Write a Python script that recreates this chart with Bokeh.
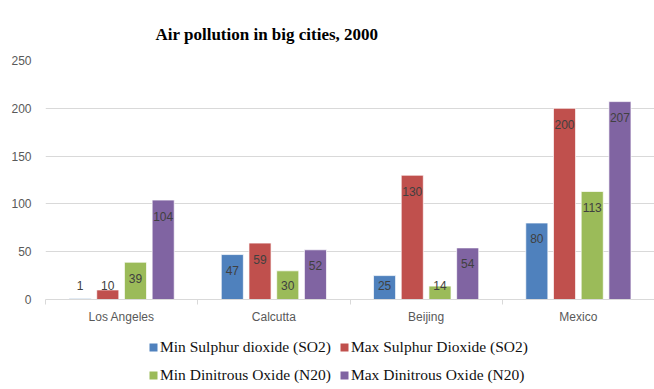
import numpy as np
from bokeh.plotting import figure
from bokeh.layouts import column
from bokeh.models import Range1d, FixedTicker, Legend, LegendItem
from bokeh.core.properties import value
from bokeh.embed import file_html
from bokeh.resources import INLINE

# ---- data ----
cities = ["Los Angeles", "Calcutta", "Beijing", "Mexico"]
series_names = ["Min Sulphur dioxide (SO2)", "Max Sulphur Dioxide (SO2)",
                "Min Dinitrous Oxide (N20)", "Max Dinitrous Oxide (N20)"]
min_so2 = [1, 47, 25, 80]
max_so2 = [10, 59, 130, 200]
min_n2o = [39, 30, 14, 113]
max_n2o = [104, 52, 54, 207]
y_ticks = [0, 50, 100, 150, 200, 250]
title_text = "Air pollution in big cities, 2000"

colors = ["#4F81BD", "#C0504D", "#9BBB59", "#8064A2"]
series = [min_so2, max_so2, min_n2o, max_n2o]

p = figure(width=654, height=330, output_backend="svg", toolbar_location=None,
           x_range=Range1d(0, 4), y_range=Range1d(0, 250),
           min_border_left=45, min_border_right=0, min_border_top=60,
           min_border_bottom=31)
p.outline_line_color = None
p.background_fill_color = "white"
p.border_fill_color = "white"

p.title.text = title_text
p.title.align = "left"
p.title.offset = 110
p.title.text_font = "Liberation Serif"
p.title.text_font_style = "bold"
p.title.text_font_size = "17px"
p.title.text_color = "black"
p.title.standoff = 33

centers = np.arange(len(cities)) + 0.5
pitch = 0.182
bw = 0.145
for i, (vals, col) in enumerate(zip(series, colors)):
    xs = centers + (i - 1.5) * pitch
    p.vbar(x=xs, top=vals, width=bw, bottom=0, fill_color=col,
           line_color="white", line_width=1, line_alpha=0.7)
    ly = [max(v - 16.7, 14.6) for v in vals]
    p.text(x=xs, y=ly, text=[str(v) for v in vals], text_align="center",
           text_baseline="middle", text_font_size=value("12px"),
           text_font=value("Liberation Sans"), text_color="#404040")

# axes
p.xgrid.grid_line_color = None
p.ygrid.grid_line_color = "#d9d9d9"
p.ygrid.ticker = FixedTicker(ticks=y_ticks)

p.yaxis.ticker = FixedTicker(ticks=y_ticks)
p.yaxis.axis_line_color = None
p.yaxis.major_tick_line_color = None
p.yaxis.minor_tick_line_color = None
p.yaxis.major_label_standoff = 8
p.yaxis.major_label_text_font = "Liberation Sans"
p.yaxis.major_label_text_font_size = "12px"
p.yaxis.major_label_text_color = "#595959"

p.xaxis.ticker = FixedTicker(ticks=list(centers), minor_ticks=list(range(len(cities) + 1)))
p.xaxis.major_label_overrides = {float(c): n for c, n in zip(centers, cities)}
p.xaxis.axis_line_color = "#d9d9d9"
p.xaxis.major_tick_line_color = None
p.xaxis.minor_tick_line_color = "#d9d9d9"
p.xaxis.minor_tick_in = 0
p.xaxis.minor_tick_out = 5
p.xaxis.major_label_standoff = 4
p.xaxis.major_label_text_font = "Liberation Sans"
p.xaxis.major_label_text_font_size = "12px"
p.xaxis.major_label_text_color = "#595959"

# ---- legend strip (its own small figure, same series colours) ----
lg = figure(width=654, height=59, output_backend="svg", toolbar_location=None,
            x_range=Range1d(0, 1), y_range=Range1d(0, 1),
            x_axis_location=None, y_axis_location=None,
            min_border_left=0, min_border_right=0, min_border_top=0,
            min_border_bottom=0)
lg.outline_line_color = None
lg.xgrid.visible = False
lg.ygrid.visible = False
leg_items = {}
for name, col in zip(series_names, colors):
    r = lg.vbar(x=[-10], top=[-10], bottom=-11, width=0.1, fill_color=col,
                line_color=None)
    leg_items[name] = LegendItem(label=name, renderers=[r])

# column-major fill: column 1 = Min series, column 2 = Max series
order = [series_names[0], series_names[2], series_names[1], series_names[3]]
legend = Legend(items=[leg_items[n] for n in order],
                ncols=2, location=(103, 4), glyph_width=10, glyph_height=10,
                label_standoff=2, spacing=8, label_height=20, padding=0, margin=0,
                label_text_font="Liberation Serif", label_text_font_size="15.5px",
                label_text_color="#111111", border_line_color=None,
                background_fill_alpha=0)
lg.add_layout(legend, "center")

layout = column(p, lg, spacing=0)
open("out.html", "w").write(file_html(layout, INLINE))
